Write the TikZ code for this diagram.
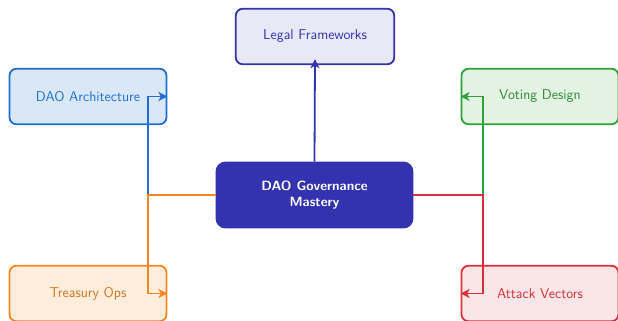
\documentclass[tikz,border=0pt]{standalone}
\usetikzlibrary{arrows.meta}
\definecolor{cind}{HTML}{3333B0}
\definecolor{cindf}{HTML}{E8E8F6}
\definecolor{cblue}{HTML}{1E6FD0}
\definecolor{cbluef}{HTML}{D9E7F7}
\definecolor{cgreen}{HTML}{2EA23A}
\definecolor{cgreenf}{HTML}{E3F2E3}
\definecolor{cgreent}{HTML}{2F8A35}
\definecolor{corange}{HTML}{F5861F}
\definecolor{corangef}{HTML}{FFEEDD}
\definecolor{coranget}{HTML}{D2741E}
\definecolor{cred}{HTML}{D9303A}
\definecolor{credf}{HTML}{FAE6E7}
\begin{document}
\begin{tikzpicture}[x=1pt,y=-1pt,
  font=\sffamily\fontsize{14.2}{17}\selectfont,
  box/.style={draw, line width=1.8pt, rounded corners=7pt, minimum width=157pt, minimum height=55.5pt, align=center, inner sep=0pt},
  hub/.style={draw=cind, fill=cind, text=white, line width=1.8pt, rounded corners=9pt, minimum width=196pt, minimum height=65pt, align=center, inner sep=0pt, font=\sffamily\bfseries\fontsize{13.4}{16}\selectfont},
  conn/.style={line width=1.8pt, -{Stealth[length=9pt,width=9pt,inset=2.5pt]}}]
\useasboundingbox (0,0) rectangle (618,321);
\node[hub] (hub) at (314.5,195) {DAO Governance\\Mastery};
\node[box, minimum width=158.5pt, draw=cind, fill=cindf, text=cind] (legal) at (315,36.5) {Legal Frameworks};
\node[box, draw=cblue, fill=cbluef, text=cblue] (arch) at (88,96.5) {DAO Architecture};
\node[box, draw=cgreen, fill=cgreenf, text=cgreent] (vote) at (540,96.5) {Voting Design};
\node[box, draw=corange, fill=corangef, text=coranget] (treas) at (88,293.5) {Treasury Ops};
\node[box, draw=cred, fill=credf, text=cred] (attack) at (540,293.5) {Attack Vectors};
\coordinate (jl) at (148,195);
\coordinate (jr) at (483,195);
\draw[conn, cind] (hub.north) -- ([yshift=6pt]legal.south);
\draw[conn, cblue] (hub.west) -- (jl) |- (arch.east);
\draw[conn, corange] (hub.west) -- (jl) |- (treas.east);
\draw[conn, cgreen] (hub.east) -- (jr) |- (vote.west);
\draw[conn, cred] (hub.east) -- (jr) |- (attack.west);
\end{tikzpicture}
\end{document}
